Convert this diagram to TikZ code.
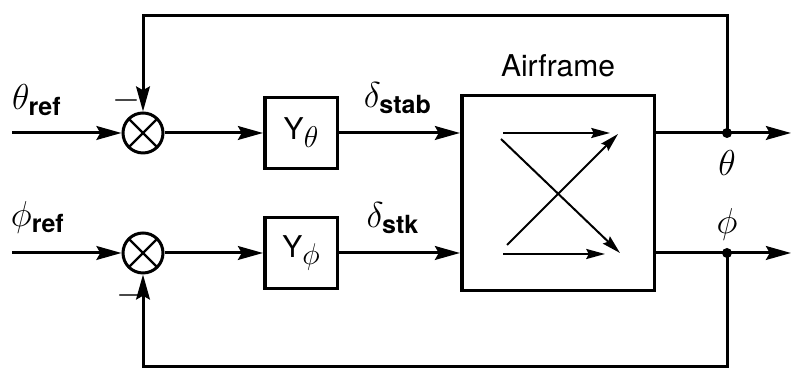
\documentclass[tikz,border=0pt]{standalone}
\usepackage{amsmath}
\usepackage{fontspec}
\setmainfont{TeX Gyre Heros}
\usetikzlibrary{arrows.meta, positioning, calc}

\begin{document}
\begin{tikzpicture}[x=0.4pt, y=-0.4pt,
    wire/.style={line width=1.2pt},
    sig/.style={wire, -{Stealth[length=10pt, width=5.5pt, inset=1.5pt]}},
    sumjunc/.style={circle, draw, line width=1.2pt, minimum size=16pt, inner sep=0pt,
      path picture={\draw[line width=0.9pt]
        (path picture bounding box.north west) -- (path picture bounding box.south east)
        (path picture bounding box.south west) -- (path picture bounding box.north east);}},
    blockbox/.style={draw, line width=1.4pt, minimum width=29pt, minimum height=28.5pt, font=\large},
    lbl/.style={font=\Large}]
    \useasboundingbox (0,0) rectangle (793,370);
    % summing junctions and blocks
    \node[sumjunc] (s1) at (143,133) {};
    \node[sumjunc] (s2) at (143,253) {};
    \node[blockbox] (yth) at (301,133) {Y\raisebox{-0.5ex}{$\theta$}};
    \node[blockbox] (yph) at (301,253) {Y\raisebox{-0.5ex}{$\phi$}};
    \node[draw, line width=1.4pt, minimum width=77pt, minimum height=78pt] (af) at (558,193) {};
    \node[above=3pt of af, font=\large] (aflbl) {Airframe};
    % inner cross-coupling arrows
    \begin{scope}[line width=0.8pt, -{Stealth[length=7.5pt, width=4pt, inset=1pt]}]
      \draw (503,133) -- (610,133);
      \draw (503,254) -- (605,254);
      \draw (501,139) -- (620,253);
      \draw (507,245) -- (618,134);
    \end{scope}
    % end points
    \coordinate (in1) at (12,133);
    \coordinate (in2) at (12,253);
    \coordinate (tdot) at (727,133);
    \coordinate (pdot) at (727,253);
    \coordinate (o1) at (791,133);
    \coordinate (o2) at (791,253);
    \coordinate (fbtop) at (727,16);
    \coordinate (fbbot) at (727,367);
    % forward path
    \draw[sig] (in1) -- (s1);
    \draw[sig] (in2) -- (s2);
    \draw[sig] (s1) -- (yth);
    \draw[sig] (s2) -- (yph);
    \draw[sig] (yth) -- (yth -| af.west);
    \draw[sig] (yph) -- (yph -| af.west);
    \draw[wire] (af.east |- tdot) -- (tdot);
    \draw[wire] (af.east |- pdot) -- (pdot);
    \draw[sig] (tdot) -- (o1);
    \draw[sig] (pdot) -- (o2);
    % feedback
    \draw[sig] (tdot) -- (fbtop) -| (s1);
    \draw[sig] (pdot) -- (fbbot) -| (s2);
    \fill (tdot) circle (2pt);
    \fill (pdot) circle (2pt);
    % labels
    \node[lbl] (thref) at (37,100) {$\theta_{\text{\bfseries ref}}$};
    \node[lbl] (phref) at (38,218) {$\phi_{\text{\bfseries ref}}$};
    \node[font=\Large] (m1) at (126,101) {$-$};
    \node[font=\Large] (m2) at (130,296) {$-$};
    \node[lbl] (dstab) at (398,98) {$\delta_{\text{\bfseries stab}}$};
    \node[lbl] (dstk) at (393,218) {$\delta_{\text{\bfseries stk}}$};
    \node[lbl] (thout) at (727,163) {$\theta$};
    \node[lbl] (phout) at (727,225) {$\phi$};
\end{tikzpicture}
\end{document}
